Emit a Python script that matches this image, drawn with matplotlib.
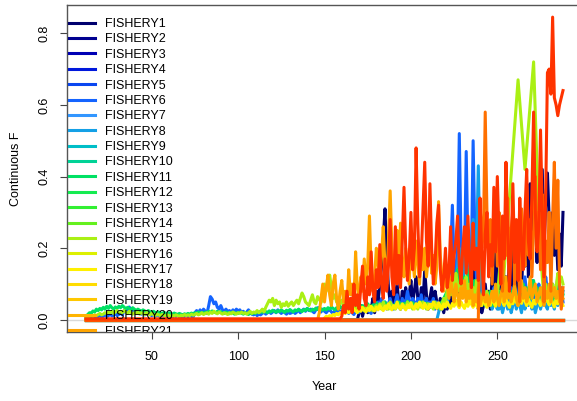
import numpy as np
import matplotlib
matplotlib.use("Agg")
import matplotlib.pyplot as plt

plt.rcParams['font.family'] = ['Liberation Sans', 'DejaVu Sans']

# model time steps
years = np.arange(12, 289)

# one colour per fishery, navy -> red
fishery_cols = ["#00006e", "#000090", "#0000b4", "#0018dc", "#0a46f0", "#1464ff",
                "#3296ff", "#14a0e6", "#00bec8", "#00d296", "#00e164", "#14eb50",
                "#32f032", "#64f01e", "#aaf014", "#dcf000", "#fff000", "#ffdc00",
                "#ffc800", "#ffb400", "#ffa500", "#ff9000", "#ff7000", "#ff5200",
                "#ff3300"]
fishery_names = ["FISHERY%d" % (i + 1) for i in range(len(fishery_cols))]

#continuous F by fishery (only the ones that catch anything)
fishery1 = [0.0] * 158 + [
    0.02, 0.04, 0.01, 0.03, 0.05, 0.02, 0.04, 0.03, 0.06, 0.02,
    0.08, 0.05, 0.10, 0.15, 0.22, 0.31, 0.18, 0.09, 0.05, 0.08,
    0.04, 0.07, 0.10, 0.05, 0.03, 0.08, 0.06, 0.09, 0.04, 0.07,
    0.11, 0.05, 0.08, 0.12, 0.06, 0.04, 0.09, 0.05, 0.14, 0.07,
    0.03, 0.06, 0.09, 0.04, 0.08, 0.05, 0.03, 0.06, 0.04, 0.02,
    0.05, 0.03, 0.07, 0.04, 0.09, 0.05, 0.12, 0.08, 0.06, 0.10,
    0.15, 0.07, 0.11, 0.06, 0.18, 0.09, 0.14, 0.05, 0.08, 0.03,
    0.06, 0.02, 0.04, 0.10, 0.05, 0.08, 0.03, 0.12, 0.07, 0.20,
    0.10, 0.06, 0.15, 0.22, 0.08, 0.12, 0.05, 0.18, 0.09, 0.27,
    0.13, 0.07, 0.19, 0.10, 0.06, 0.24, 0.15, 0.30, 0.12, 0.38,
    0.21, 0.49, 0.30, 0.16, 0.35, 0.25, 0.42, 0.20, 0.33, 0.41,
    0.28, 0.22, 0.30, 0.18, 0.25, 0.14, 0.24, 0.15, 0.30]

fishery6 = [
    0.004, 0.006, 0.005, 0.008, 0.006, 0.010, 0.007, 0.009, 0.012, 0.008,
    0.010, 0.014, 0.009, 0.012, 0.016, 0.011, 0.013, 0.018, 0.012, 0.015,
    0.020, 0.014, 0.025, 0.030, 0.022, 0.036, 0.028, 0.032, 0.020, 0.024,
    0.018, 0.022, 0.016, 0.020, 0.014, 0.018, 0.022, 0.015, 0.012, 0.016,
    0.010, 0.014, 0.012, 0.008, 0.012, 0.010, 0.014, 0.009, 0.012, 0.010,
    0.008, 0.012, 0.010, 0.014, 0.009, 0.011, 0.008, 0.010, 0.013, 0.009,
    0.012, 0.010, 0.008, 0.020, 0.026, 0.018, 0.028, 0.020, 0.030, 0.024,
    0.018, 0.040, 0.065, 0.058, 0.045, 0.050, 0.035, 0.030, 0.040, 0.028,
    0.024, 0.030, 0.022, 0.026, 0.020, 0.028, 0.022, 0.030, 0.025, 0.028,
    0.020, 0.024, 0.018, 0.022, 0.028, 0.020, 0.016, 0.014, 0.018, 0.012,
    0.016, 0.014, 0.018, 0.022, 0.016, 0.020, 0.024, 0.018, 0.022, 0.026,
    0.020, 0.028, 0.022, 0.018, 0.024, 0.020, 0.016, 0.022, 0.018, 0.020,
    0.024, 0.018, 0.022, 0.028, 0.020, 0.026, 0.030, 0.024, 0.032, 0.026,
    0.030, 0.024, 0.020, 0.028, 0.034, 0.026, 0.022, 0.030, 0.024, 0.020,
    0.026, 0.030, 0.022, 0.018, 0.026, 0.020, 0.030, 0.024, 0.020, 0.028,
    0.022, 0.030, 0.018, 0.026, 0.020, 0.015, 0.024, 0.030, 0.020, 0.028,
    0.035, 0.025, 0.040, 0.030, 0.022, 0.018, 0.030, 0.045, 0.030, 0.050,
    0.040, 0.060, 0.035, 0.050, 0.030, 0.045, 0.060, 0.040, 0.030, 0.050,
    0.070, 0.045, 0.035, 0.060, 0.040, 0.050, 0.080, 0.055, 0.040, 0.060,
    0.050, 0.035, 0.060, 0.045, 0.070, 0.040, 0.050, 0.060, 0.035, 0.050,
    0.040, 0.060, 0.030, 0.050, 0.040, 0.030, 0.045, 0.035, 0.050, 0.080,
    0.120, 0.180, 0.320, 0.150, 0.090, 0.200, 0.520, 0.220, 0.100, 0.160,
    0.470, 0.200, 0.120, 0.180, 0.500, 0.240, 0.100, 0.140, 0.080, 0.060,
    0.050, 0.080, 0.060, 0.040, 0.070, 0.050, 0.090, 0.060, 0.040, 0.070,
    0.050, 0.080, 0.060, 0.100, 0.070, 0.050, 0.090, 0.060, 0.080, 0.050,
    0.070, 0.100, 0.060, 0.080, 0.120, 0.070, 0.050, 0.090, 0.110, 0.060,
    0.080, 0.050, 0.100, 0.070, 0.090, 0.060, 0.120, 0.080, 0.050, 0.070,
    0.100, 0.060, 0.080, 0.120, 0.070, 0.090, 0.050]

fishery8 = [0.0] * 204 + [
    0.02, 0.04, 0.03, 0.05, 0.06, 0.04, 0.08, 0.10, 0.07, 0.12,
    0.09, 0.15, 0.20, 0.12, 0.10, 0.18, 0.14, 0.22, 0.12, 0.16,
    0.28, 0.15, 0.20, 0.43, 0.18, 0.10, 0.06, 0.08, 0.05, 0.04,
    0.06, 0.03, 0.05, 0.04, 0.03,
    0.03, 0.05, 0.02, 0.04, 0.06, 0.03, 0.05, 0.02, 0.04, 0.07,
    0.03, 0.05, 0.04, 0.02, 0.06, 0.03, 0.05, 0.04, 0.07, 0.03,
    0.05, 0.02, 0.04, 0.06, 0.03, 0.05, 0.08, 0.04, 0.03, 0.06,
    0.04, 0.05, 0.03, 0.07, 0.04, 0.06, 0.05, 0.08]

fishery11 = [
    0.010, 0.015, 0.020, 0.018, 0.025, 0.022, 0.030, 0.026, 0.032, 0.028,
    0.035, 0.030, 0.038, 0.032, 0.040, 0.034, 0.030, 0.036, 0.032, 0.038,
    0.034, 0.040, 0.036, 0.030, 0.035, 0.032, 0.028, 0.034, 0.030, 0.026,
    0.030, 0.027, 0.024, 0.028, 0.025, 0.022, 0.026, 0.023, 0.020, 0.024,
    0.021, 0.018, 0.022, 0.020, 0.017, 0.021, 0.019, 0.016, 0.020, 0.018,
    0.016, 0.019, 0.017, 0.015, 0.018, 0.016, 0.014, 0.017, 0.015, 0.018,
    0.016, 0.019, 0.017, 0.020, 0.018, 0.022, 0.019, 0.021, 0.018, 0.022,
    0.020, 0.024, 0.021, 0.025, 0.022, 0.020, 0.024, 0.021, 0.023, 0.020,
    0.018, 0.022, 0.020, 0.017, 0.021, 0.019, 0.016, 0.020, 0.018, 0.021,
    0.019, 0.016, 0.020, 0.018, 0.015, 0.019, 0.017, 0.020, 0.018, 0.022,
    0.020, 0.024, 0.021, 0.026, 0.023, 0.020, 0.025, 0.022, 0.027, 0.024,
    0.021, 0.026, 0.023, 0.028, 0.024, 0.021, 0.027, 0.024, 0.029, 0.025,
    0.022, 0.028, 0.025, 0.030, 0.026, 0.023, 0.029, 0.026, 0.032, 0.028,
    0.025, 0.030, 0.027, 0.033, 0.029, 0.035, 0.030, 0.027, 0.032, 0.028,
    0.034, 0.030, 0.036, 0.032, 0.028, 0.034, 0.030, 0.038, 0.033, 0.030,
    0.036, 0.032, 0.040, 0.035, 0.030, 0.038, 0.034, 0.042, 0.036, 0.032,
    0.040, 0.035, 0.030, 0.045, 0.038, 0.033, 0.042, 0.036, 0.048, 0.040,
    0.035, 0.045, 0.038, 0.050, 0.042, 0.036, 0.046, 0.040, 0.035, 0.044,
    0.038, 0.050, 0.042, 0.036, 0.046, 0.040, 0.052, 0.044, 0.038, 0.048,
    0.042, 0.036, 0.046, 0.040, 0.050, 0.043, 0.037, 0.047, 0.041, 0.035,
    0.044, 0.038, 0.048, 0.042, 0.036, 0.046, 0.050, 0.060, 0.070, 0.080,
    0.100, 0.090, 0.120, 0.080, 0.110, 0.140, 0.100, 0.130, 0.090, 0.120,
    0.100, 0.140, 0.090, 0.120, 0.080, 0.110, 0.070, 0.090, 0.060, 0.050,
    0.060, 0.040, 0.070, 0.050, 0.080, 0.060, 0.040, 0.070, 0.050, 0.080,
    0.060, 0.090, 0.050, 0.070, 0.100, 0.060, 0.080, 0.050, 0.090, 0.070,
    0.050, 0.080, 0.060, 0.100, 0.070, 0.090, 0.050, 0.080, 0.060, 0.110,
    0.070, 0.090, 0.060, 0.080, 0.050, 0.100, 0.070, 0.090, 0.060, 0.080,
    0.050, 0.070, 0.090, 0.060, 0.080, 0.050, 0.070]

# fishery 15 has a gap in its record around the two big peaks
fishery15_years = list(range(12, 255)) + [262, 266, 271, 274] + list(range(276, 289))
fishery15 = [
    0.006, 0.008, 0.010, 0.012, 0.010, 0.014, 0.012, 0.015, 0.018, 0.014,
    0.016, 0.020, 0.018, 0.022, 0.020, 0.024, 0.018, 0.022, 0.026, 0.020,
    0.024, 0.020, 0.026, 0.022, 0.018, 0.024, 0.020, 0.016, 0.020, 0.018,
    0.022, 0.016, 0.020, 0.018, 0.015, 0.020, 0.017, 0.014, 0.018, 0.015,
    0.012, 0.016, 0.014, 0.012, 0.015, 0.013, 0.011, 0.014, 0.012, 0.010,
    0.013, 0.011, 0.014, 0.012, 0.010, 0.013, 0.011, 0.015, 0.012, 0.014,
    0.012, 0.016, 0.013, 0.015, 0.018, 0.014, 0.016, 0.020, 0.015, 0.018,
    0.020, 0.016, 0.022, 0.018, 0.024, 0.020, 0.017, 0.022, 0.019, 0.016,
    0.020, 0.018, 0.015, 0.020, 0.017, 0.022, 0.019, 0.016, 0.020, 0.018,
    0.022, 0.018, 0.020, 0.016, 0.020, 0.024, 0.018, 0.022, 0.020, 0.026,
    0.020, 0.024, 0.030, 0.022, 0.035, 0.045, 0.055, 0.050, 0.060, 0.040,
    0.055, 0.045, 0.050, 0.035, 0.045, 0.040, 0.050, 0.038, 0.045, 0.050,
    0.040, 0.048, 0.055, 0.045, 0.060, 0.075, 0.065, 0.050, 0.045, 0.040,
    0.055, 0.070, 0.050, 0.045, 0.065, 0.058, 0.048, 0.060, 0.100, 0.080,
    0.100, 0.125, 0.090, 0.060, 0.070, 0.050, 0.060, 0.045, 0.055, 0.040,
    0.050, 0.035, 0.045, 0.030, 0.040, 0.035, 0.030, 0.040, 0.025, 0.035,
    0.030, 0.025, 0.035, 0.030, 0.040, 0.030, 0.025, 0.035, 0.040, 0.030,
    0.045, 0.030, 0.050, 0.035, 0.040, 0.030, 0.050, 0.040, 0.035, 0.030,
    0.040, 0.035, 0.030, 0.045, 0.040, 0.030, 0.050, 0.035, 0.040, 0.030,
    0.035, 0.040, 0.030, 0.045, 0.035, 0.050, 0.040, 0.030, 0.045, 0.035,
    0.040, 0.030, 0.050, 0.035, 0.040, 0.030, 0.045, 0.060, 0.050, 0.080,
    0.100, 0.070, 0.120, 0.090, 0.130, 0.100, 0.080, 0.110, 0.070, 0.100,
    0.120, 0.080, 0.100, 0.060, 0.090, 0.070, 0.110, 0.080, 0.060, 0.050,
    0.070, 0.050, 0.080, 0.060, 0.040, 0.070, 0.050, 0.090, 0.060, 0.120,
    0.180, 0.100, 0.140,
    0.670, 0.420, 0.720, 0.280,
    0.120, 0.060, 0.100, 0.050, 0.080, 0.060, 0.100, 0.070, 0.090, 0.130,
    0.110, 0.120, 0.100]

fishery17 = [0.0] * 138 + [
    0.005, 0.010, 0.008, 0.012, 0.010, 0.015, 0.012, 0.018, 0.014, 0.020,
    0.016, 0.022, 0.018, 0.025, 0.020, 0.028, 0.022, 0.030, 0.025, 0.020,
    0.030, 0.024, 0.035, 0.028, 0.022, 0.032, 0.026, 0.038, 0.030, 0.025,
    0.035, 0.028, 0.040, 0.032, 0.026, 0.038, 0.030, 0.045, 0.034, 0.028,
    0.040, 0.032, 0.050, 0.036, 0.030, 0.044, 0.035, 0.028, 0.042, 0.034,
    0.048, 0.036, 0.030, 0.045, 0.035, 0.050, 0.040, 0.032, 0.046, 0.036,
    0.030, 0.044, 0.036, 0.050, 0.040, 0.032, 0.048, 0.038, 0.030, 0.045,
    0.036, 0.050, 0.040, 0.032, 0.046, 0.038, 0.055, 0.042, 0.034, 0.050,
    0.040, 0.032, 0.048, 0.038, 0.056, 0.044, 0.035, 0.050, 0.040, 0.032,
    0.050, 0.040, 0.060, 0.045, 0.035, 0.055, 0.042, 0.065, 0.048, 0.038,
    0.056, 0.044, 0.070, 0.050, 0.040, 0.060, 0.046, 0.035, 0.055, 0.045,
    0.065, 0.050, 0.040, 0.060, 0.046, 0.072, 0.052, 0.040, 0.058, 0.045,
    0.035, 0.055, 0.044, 0.068, 0.050, 0.040, 0.060, 0.046, 0.075, 0.055,
    0.042, 0.062, 0.048, 0.036, 0.058, 0.045, 0.070, 0.052, 0.040]

fishery21 = [0.0] * 135 + [
    0.02, 0.06, 0.10, 0.05, 0.09, 0.125, 0.07, 0.04, 0.10, 0.125,
    0.06, 0.03, 0.08, 0.11, 0.05, 0.08, 0.04, 0.14, 0.07, 0.10,
    0.05, 0.19, 0.09, 0.06, 0.12, 0.08, 0.17, 0.10, 0.15, 0.29,
    0.14, 0.08, 0.12, 0.20, 0.16, 0.11, 0.18, 0.26, 0.15, 0.10,
    0.22, 0.36, 0.20, 0.12, 0.18, 0.25, 0.14, 0.27, 0.16, 0.12,
    0.20, 0.15, 0.10, 0.24, 0.18, 0.12, 0.22, 0.16, 0.10, 0.19,
    0.14, 0.20, 0.12, 0.17, 0.22, 0.13, 0.18, 0.10, 0.15, 0.33,
    0.18, 0.12, 0.08, 0.14, 0.10, 0.06, 0.12, 0.08, 0.05, 0.10,
    0.07, 0.04, 0.09, 0.06, 0.11, 0.05, 0.08, 0.06, 0.10, 0.04,
    0.07, 0.05, 0.09, 0.04, 0.06, 0.08, 0.05, 0.07, 0.04, 0.06,
    0.08, 0.05, 0.10, 0.06, 0.04, 0.07, 0.09, 0.05, 0.12, 0.06,
    0.08, 0.05, 0.07, 0.10, 0.06, 0.04, 0.08, 0.11, 0.06, 0.09,
    0.05, 0.07, 0.12, 0.06, 0.08, 0.10, 0.05, 0.07, 0.09, 0.06,
    0.04, 0.08, 0.06, 0.10, 0.05, 0.07, 0.09, 0.06, 0.08, 0.05,
    0.07, 0.06]

fishery23 = [0.0] * 228 + [
    0.33, 0.20, 0.25, 0.58, 0.30, 0.20, 0.28, 0.10, 0.24, 0.33,
    0.15, 0.30, 0.22, 0.08, 0.26, 0.18, 0.34, 0.12, 0.25, 0.30,
    0.10, 0.27, 0.20, 0.05, 0.31, 0.24, 0.15, 0.36, 0.18, 0.28,
    0.12, 0.25, 0.40, 0.20, 0.30, 0.14, 0.35, 0.05, 0.22, 0.16,
    0.30, 0.08, 0.28, 0.44, 0.20, 0.39, 0.10, 0.03, 0.09]

fishery25 = [0.003] * 148 + [
    0.01, 0.04, 0.02, 0.08, 0.03, 0.06, 0.02, 0.10, 0.04, 0.07,
    0.03, 0.09, 0.15, 0.06, 0.04, 0.12, 0.07, 0.19, 0.08, 0.05,
    0.14, 0.09, 0.21, 0.10, 0.06, 0.17, 0.08, 0.15, 0.28, 0.12,
    0.07, 0.26, 0.10, 0.18, 0.09, 0.22, 0.37, 0.20, 0.11, 0.17,
    0.30, 0.14, 0.20, 0.48, 0.27, 0.12, 0.18, 0.31, 0.44, 0.22,
    0.15, 0.38, 0.20, 0.10, 0.16, 0.27, 0.32, 0.14, 0.08, 0.12,
    0.20, 0.09, 0.13, 0.26, 0.11, 0.18, 0.22, 0.29, 0.15, 0.10,
    0.20, 0.26, 0.13, 0.29, 0.16, 0.09, 0.27, 0.14, 0.20, 0.11,
    0.34, 0.18, 0.07, 0.24, 0.30, 0.12, 0.21, 0.15, 0.37, 0.19,
    0.40, 0.23, 0.10, 0.29, 0.17, 0.44, 0.25, 0.08, 0.20, 0.38,
    0.16, 0.28, 0.11, 0.34, 0.20, 0.14, 0.30, 0.42, 0.22, 0.17,
    0.35, 0.58, 0.30, 0.19, 0.26, 0.53, 0.30, 0.12, 0.35, 0.69,
    0.70, 0.63, 0.845, 0.62, 0.60, 0.57, 0.60, 0.62, 0.64]

catching = {1: fishery1, 6: fishery6, 8: fishery8, 11: fishery11,
            17: fishery17, 21: fishery21, 23: fishery23, 25: fishery25}

fig = plt.figure(figsize=(5.77, 4.01), dpi=100)
ax = fig.add_axes([67 / 577, 69 / 401, 515 / 577, 327 / 401])

ax.axhline(0, color="#d9d9d9", lw=1, zorder=0)

lines = []
for i, (name, col) in enumerate(zip(fishery_names, fishery_cols)):
    num = i + 1
    if num == 15:
        x, f = fishery15_years, fishery15
    else:
        x = years
        f = catching.get(num, [0.0] * len(years))
    ln, = ax.plot(x, f, color=col, lw=2.2, label=name, solid_joinstyle="round")
    lines.append(ln)

ax.set_xlim(1, 299)
ax.set_ylim(-0.0338, 0.8788)
ax.set_xticks([50, 100, 150, 200, 250])
ax.set_yticks([0.0, 0.2, 0.4, 0.6, 0.8])
ax.set_yticklabels(["0.0", "0.2", "0.4", "0.6", "0.8"], rotation=90, va="center")
ax.tick_params(direction="out", length=5, width=0.8, color="#444444",
               labelsize=9, pad=7)
ax.tick_params(axis="x", pad=9)
for s in ax.spines.values():
    s.set_color("#555555")
    s.set_linewidth(1.0)

ax.set_xlabel("Year", fontsize=9, labelpad=13)
ax.set_ylabel("Continuous F", fontsize=9, labelpad=12)

#only the first 21 fit; the last one gets cut by the bottom of the plot region
leg = ax.legend(lines[:21], fishery_names[:21], loc="upper left",
                bbox_to_anchor=(0.004, 0.960), frameon=False,
                fontsize=9, handlelength=2.1, handletextpad=0.8,
                labelspacing=0.27, borderpad=0, borderaxespad=0)
for t in leg.get_texts():
    t.set_clip_box(ax.bbox)
    t.set_clip_on(True)
for h in leg.legend_handles:
    h.set_linewidth(2.2)
    h.set_clip_box(ax.bbox)
    h.set_clip_on(True)

fig.savefig("out.png", dpi=100)
